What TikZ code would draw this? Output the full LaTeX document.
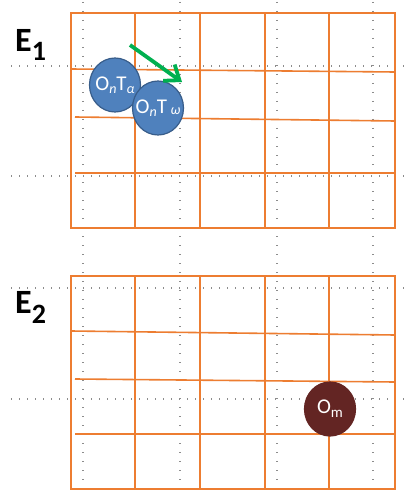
\documentclass[tikz,border=0pt]{standalone}
\usepackage{fontspec}
\setmainfont{Carlito}
\usetikzlibrary{arrows.meta,shapes.geometric}
\definecolor{gridorange}{RGB}{237,125,49}
\definecolor{ballblue}{RGB}{79,129,189}
\definecolor{ballblueedge}{RGB}{56,93,138}
\definecolor{ballred}{RGB}{99,37,35}
\definecolor{arrowgreen}{RGB}{0,176,80}
\definecolor{dotgray}{RGB}{140,140,140}
\newcommand{\bigfs}{\fontsize{21}{22}\selectfont}
\newcommand{\subfs}{\fontsize{14}{15}\selectfont}
\newcommand{\ballText}[1]{\makebox[0pt][c]{#1}}
\tikzset{
  dotline/.style={draw=dotgray, line width=1.1pt, dash pattern=on 1.1pt off 7.9pt},
  dothline/.style={draw=dotgray, line width=1.1pt, dash pattern=on 1.1pt off 6.9pt},
  gridframe/.style={draw=gridorange, line width=2.2pt},
  gridline/.style={draw=gridorange, line width=1.6pt},
  ball/.style={ellipse, minimum width=51pt, minimum height=54pt, inner sep=0pt,
    draw=ballblueedge, line width=1.2pt, fill=ballblue, text=white, font=\bigfs},
  redball/.style={ball, fill=ballred, draw=ballred},
  elabel/.style={anchor=base west, inner sep=0pt, font=\fontsize{34}{36}\selectfont\bfseries},
  movearrow/.style={draw=arrowgreen, line width=3.8pt, -{Straight Barb[length=13pt, width=20pt]}}
}
\begin{document}
\begin{tikzpicture}[x=1pt,y=-1pt]
\useasboundingbox (0,0) rectangle (406,492);
\fill[white] (0,0) rectangle (406,492);
% dotted guide lines
\foreach \xx in {83,180,277,373} { \draw[dotline] (\xx,2) -- (\xx,492); }
\foreach \yy in {66,176,288,399} { \draw[dothline] (11,\yy) -- (404,\yy); }
% top grid
\foreach \xx in {135,200,265,329} { \draw[gridline] (\xx,13) -- (\xx,228); }
\draw[gridline] (71,69) -- (395,72);
\draw[gridline] (75,117) -- (395,121);
\draw[gridline] (75,173) -- (395,173);
\draw[gridframe] (71,13) rectangle (395,228);
% bottom grid
\foreach \xx in {135,200,265,329} { \draw[gridline] (\xx,276) -- (\xx,489); }
\draw[gridline] (71,331) -- (395,335);
\draw[gridline] (75,379) -- (395,382);
\draw[gridline] (75,434) -- (395,434);
\draw[gridframe] (71,276) rectangle (395,489);
% labels
\node[elabel] (e1) at (15,52) {E\raisebox{-9pt}{\fontsize{28}{28}\selectfont 1}};
\node[elabel] (e2) at (15,313) {E\raisebox{-10pt}{\fontsize{28}{28}\selectfont 2}};
% objects
\node[ball] (ona) at (115,85) {\ballText{O\raisebox{-3pt}{\subfs\itshape n}T\raisebox{-3pt}{\subfs\itshape α}}};
\node[ball] (onw) at (158,108) {\ballText{O\raisebox{-3pt}{\subfs\itshape n}T\,\raisebox{-1pt}{\subfs\itshape ω}}};
\node[redball] (om) at (330,409) {\ballText{O\raisebox{-4pt}{\fontsize{15}{16}\selectfont m}}};
% movement arrow
\coordinate (as) at (130,45);
\coordinate (ae) at (182,82);
\draw[movearrow] (as) -- (ae);
\end{tikzpicture}
\end{document}
